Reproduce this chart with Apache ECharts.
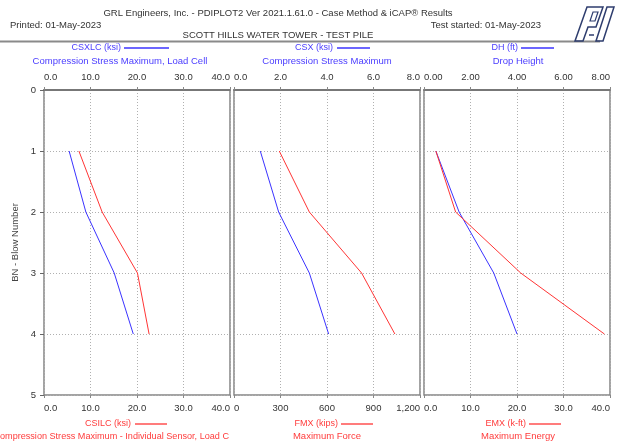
<!DOCTYPE html>
<html><head><meta charset="utf-8">
<script src="https://cdn.jsdelivr.net/npm/echarts@6/dist/echarts.min.js"></script>
<style>html,body{margin:0;padding:0;background:#fff}#c{width:618px;height:443px}</style>
</head><body><div id="c"></div>
<script>
// ---- data ----
var blows = [1, 2, 3, 4];
var csxlc = [5.4, 9.0, 15.1, 19.2];      // ksi, top axis panel 1
var csilc = [7.5, 12.5, 20.1, 22.6];     // ksi, bottom axis panel 1
var csx = [1.13, 1.92, 3.24, 4.07];      // ksi, top axis panel 2
var fmx = [292, 486, 823, 1038];         // kips, bottom axis panel 2
var dh = [0.51, 1.51, 3.0, 4.0];         // ft, top axis panel 3
var emx = [2.55, 6.8, 20.8, 38.8];       // k-ft, bottom axis panel 3
var blowTicks = [0, 1, 2, 3, 4, 5];

var BLUE = '#3b33ff', BLUE_T = '#4a3cff', RED = '#ff3535', RED_T = '#ff3b3b';
var FONT = 'Liberation Sans, Arial, sans-serif';

function pairs(xs) { return xs.map(function (v, i) { return [v, blows[i]]; }); }
function fmt(d) { return function (v) { return v.toFixed(d); }; }
function comma(v) { return v.toLocaleString('en-US'); }

var panels = [
  { left: 44, top: { min: 0, max: 40, interval: 10, f: fmt(1) }, bot: { min: 0, max: 40, interval: 10, f: fmt(1) } },
  { left: 234, top: { min: 0, max: 8, interval: 2, f: fmt(1) }, bot: { min: 0, max: 1200, interval: 300, f: comma } },
  { left: 424, top: { min: 0, max: 8, interval: 2, f: fmt(2) }, bot: { min: 0, max: 40, interval: 10, f: fmt(1) } }
];

var grids = [], xAxes = [], yAxes = [];
panels.forEach(function (p, i) {
  grids.push({ left: p.left, width: 186, top: 90, height: 305, show: true, borderColor: '#858585', borderWidth: 1.5, backgroundColor: '#fff' });
  ['top', 'bottom'].forEach(function (pos) {
    var a = pos === 'top' ? p.top : p.bot;
    xAxes.push({
      type: 'value', gridIndex: i, position: pos, min: a.min, max: a.max, interval: a.interval,
      axisLine: { show: pos === 'top', lineStyle: { color: '#777', width: 2 } },
      axisTick: { show: true, length: 3, lineStyle: { color: '#888' } },
      splitLine: { show: pos === 'top', lineStyle: { color: '#b0b0b0', type: [1, 2], width: 1 } },
      axisLabel: { formatter: a.f, color: '#333', fontFamily: FONT, fontSize: 9.5, margin: 8,
                   showMinLabel: true, showMaxLabel: true, alignMinLabel: 'left', alignMaxLabel: 'right' }
    });
  });
  yAxes.push({
    type: 'value', gridIndex: i, inverse: true, min: 0, max: 5, interval: 1,
    name: i === 0 ? 'BN - Blow Number' : '', nameLocation: 'middle', nameGap: 24,
    nameTextStyle: { color: '#444', fontFamily: FONT, fontSize: 9.5 },
    axisLine: { show: false },
    axisTick: { show: i === 0, length: 4, lineStyle: { color: '#666' } },
    axisLabel: { show: i === 0, color: '#333', fontFamily: FONT, fontSize: 9.5, margin: 8,
                 formatter: function (v) { return blowTicks.indexOf(v) >= 0 ? String(v) : ''; } },
    splitLine: { show: true, lineStyle: { color: '#b0b0b0', type: [1, 2], width: 1 } }
  });
});

function line(data, xi, yi, color) {
  return { type: 'line', data: pairs(data), xAxisIndex: xi, yAxisIndex: yi, showSymbol: false, silent: true,
           lineStyle: { color: color, width: 1 }, itemStyle: { color: color }, animation: false };
}
var series = [
  line(csxlc, 0, 0, BLUE), line(csilc, 1, 0, RED),
  line(csx, 2, 1, BLUE), line(fmx, 3, 1, RED),
  line(dh, 4, 2, BLUE), line(emx, 5, 2, RED)
];

function txt(s, x, y, align, color, size) {
  return { type: 'text', x: x, y: y, silent: true,
           style: { text: s, fill: color || '#333', font: (size || 9.5) + 'px ' + FONT, textAlign: align || 'center', textVerticalAlign: 'middle' } };
}
function seg(x1, x2, y, color) {
  return { type: 'line', silent: true, shape: { x1: x1, y1: y, x2: x2, y2: y }, style: { stroke: color, lineWidth: 1.3 } };
}

var graphics = [
  txt('GRL Engineers, Inc. - PDIPLOT2 Ver 2021.1.61.0 - Case Method & iCAP® Results', 278, 13),
  txt('Printed: 01-May-2023', 10, 25, 'left'),
  txt('Test started: 01-May-2023', 541, 25, 'right'),
  txt('SCOTT HILLS WATER TOWER - TEST PILE', 278, 35),
  { type: 'line', silent: true, shape: { x1: 0, y1: 41.5, x2: 600, y2: 41.5 }, style: { stroke: '#8a8a8a', lineWidth: 2 } },
  // logo
  { type: 'polygon', silent: true, shape: { points: [[575, 41], [587, 7], [603, 7], [596, 27], [588, 27], [583, 41]] }, style: { fill: 'none', stroke: '#2e3d6e', lineWidth: 1.5 } },
  { type: 'polygon', silent: true, shape: { points: [[590, 21], [593, 12], [598, 12], [595, 21]] }, style: { fill: 'none', stroke: '#2e3d6e', lineWidth: 1.2 } },
  { type: 'polygon', silent: true, shape: { points: [[596, 41], [607, 7], [614, 7], [603, 41]] }, style: { fill: 'none', stroke: '#2e3d6e', lineWidth: 1.5 } },
  { type: 'line', silent: true, shape: { x1: 589, y1: 35, x2: 594, y2: 35 }, style: { stroke: '#2e3d6e', lineWidth: 1.5 } },
  // panel 1 legends
  txt('CSXLC (ksi)', 121, 48, 'right', BLUE_T, 9), seg(124, 169, 48, BLUE),
  txt('Compression Stress Maximum, Load Cell', 120, 61, 'center', BLUE_T),
  txt('CSILC (ksi)', 131, 424, 'right', RED_T, 9), seg(135, 167, 424, RED),
  txt('ompression Stress Maximum - Individual Sensor, Load C', 0, 436, 'left', RED_T, 9.1),
  // panel 2 legends
  txt('CSX (ksi)', 333, 48, 'right', BLUE_T, 9), seg(337, 370, 48, BLUE),
  txt('Compression Stress Maximum', 327, 61, 'center', BLUE_T),
  txt('FMX (kips)', 338, 424, 'right', RED_T, 9), seg(341, 373, 424, RED),
  txt('Maximum Force', 327, 436, 'center', RED_T),
  // panel 3 legends
  txt('DH (ft)', 518, 48, 'right', BLUE_T, 9), seg(521, 554, 48, BLUE),
  txt('Drop Height', 518, 61, 'center', BLUE_T),
  txt('EMX (k-ft)', 526, 424, 'right', RED_T, 9), seg(529, 561, 424, RED),
  txt('Maximum Energy', 518, 436, 'center', RED_T)
];

var chart = echarts.init(document.getElementById('c'), null, { renderer: 'canvas' });
chart.setOption({
  animation: false,
  backgroundColor: '#fff',
  grid: grids, xAxis: xAxes, yAxis: yAxes, series: series, graphic: graphics
});
</script></body></html>
